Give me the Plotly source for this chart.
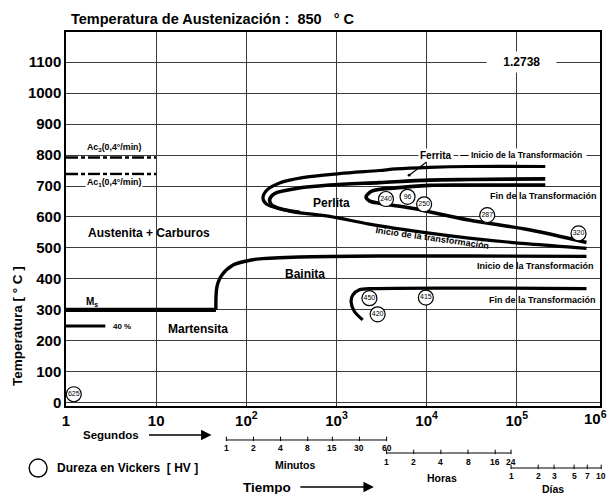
import numpy as np
import plotly.graph_objects as go

# ---------------- data (time in seconds, temperature in °C) ----------------
FERRITE_START_T = [207000, 29500, 10700, 4570, 2990, 1080, 420, 234, 169, 153, 167, 303, 838, 2320, 10700, 29500, 136000, 593000]
FERRITE_START_C = [763, 763, 760, 755, 750, 740, 727, 710, 687, 661, 642, 619, 602, 577, 548, 532, 513, 499]

PEARLITE_START_T = [207000, 29500, 10700, 2990, 838, 359, 207, 182, 191, 266, 390]
PEARLITE_START_C = [723, 721, 719, 711, 703, 692, 676, 658, 639, 623, 615]

PEARLITE_END_T = [207000, 29500, 10700, 4570, 2500, 2130, 2320, 2990, 6920, 29500, 141600, 593000]
PEARLITE_END_C = [703, 703, 702, 694, 684, 665, 652, 644, 628, 590, 558, 518]

MS_T = [1, 46]
MS_C = [300, 300]

BAINITE_START_T = [46, 46, 46.7, 48.4, 53.6, 71.4, 101, 141, 390, 2990, 29500, 593000]
BAINITE_START_C = [300, 332, 365, 387, 413, 445, 458, 465, 471, 474, 474, 473]

BAINITE_END_T = [593000, 2520, 1795, 1514, 1452, 1581, 1954]
BAINITE_END_C = [369, 369, 365, 348, 327, 295, 268]

M40_T = [1, 2.73]
M40_C = [248, 248]

AC3_T = [1, 10]
AC3_C = [792, 792]
AC1_T = [1, 10]
AC1_C = [739, 739]

HV_T = [1.22, 3540, 6140, 9380, 47000, 484000, 2320, 2860, 9800]
HV_C = [28, 658, 665, 641, 606, 547, 338, 286, 340]
HV_VAL = [625, 240, 96, 250, 287, 320, 450, 420, 415]

X_TICKS = [1, 10, 100, 1000, 10000, 100000]
X_TICKTEXT = ["<b>1</b>", "<b>10</b>", "<b>10<sup>2</sup></b>", "<b>10<sup>3</sup></b>",
              "<b>10<sup>4</sup></b>", "<b>10<sup>5</sup></b>"]
Y_TICKS = [0, 100, 200, 300, 400, 500, 600, 700, 800, 900, 1000, 1100]

MINUTES = [1, 2, 4, 8, 15, 30, 60]
HOURS = [1, 2, 4, 8, 16, 24]
DAYS = [1, 2, 3, 5, 7, 10]

X_RANGE = [0, 5.923]
Y_RANGE = [-10, 1197]

FONT = "Liberation Sans, Arial, Helvetica, sans-serif"

fig = go.Figure()

def curve(t, c, width=3.6, dash=None, shape="spline", smoothing=0.9):
    fig.add_trace(go.Scatter(
        x=t, y=c, mode="lines",
        line=dict(color="black", width=width, dash=dash, shape=shape,
                  smoothing=smoothing if shape == "spline" else None),
        hoverinfo="skip"))

curve(FERRITE_START_T, FERRITE_START_C, width=3.2)
curve(PEARLITE_START_T, PEARLITE_START_C, width=3.6)
curve(PEARLITE_END_T, PEARLITE_END_C, width=3.6)
curve(MS_T, MS_C, width=4.2, shape="linear")
curve(BAINITE_START_T, BAINITE_START_C, width=3.4, smoothing=0.8)
curve(BAINITE_END_T, BAINITE_END_C, width=3.2, smoothing=0.8)
curve(M40_T, M40_C, width=3.0, shape="linear")
curve(AC3_T, AC3_C, width=2.5, dash="12px,3px,4px,3px", shape="linear")
curve(AC1_T, AC1_C, width=2.5, dash="12px,3px,4px,3px", shape="linear")

# hardness circles
fig.add_trace(go.Scatter(
    x=HV_T, y=HV_C, mode="markers+text",
    marker=dict(symbol="circle", size=15, color="white",
                line=dict(color="black", width=1.2)),
    text=[str(v) for v in HV_VAL], textposition="middle center",
    textfont=dict(size=7, color="black", family=FONT),
    cliponaxis=False, hoverinfo="skip"))

annotations = []

def ann(text, x, y, size=12, xref="x", yref="y", log=True, **kw):
    kw.setdefault("xanchor", "center")
    kw.setdefault("yanchor", "middle")
    annotations.append(dict(
        text=text, x=(np.log10(x) if (xref == "x" and log) else x), y=y,
        xref=xref, yref=yref, showarrow=kw.pop("showarrow", False),
        font=dict(size=size, family=FONT, color="black"), **kw))

def xpaper(sec):
    """map a time (s) to the paper fraction of the log x axis"""
    return (np.log10(sec) - X_RANGE[0]) / (X_RANGE[1] - X_RANGE[0])

# region labels
ann("<b>Austenita + Carburos</b>", 8.4, 547, 12)
ann("<b>Perlita</b>", 890, 644, 12)
ann("<b>Bainita</b>", 443, 416, 12)
ann("<b>Martensita</b>", 29.1, 238, 12)
ann("<b>M<sub>s</sub></b>", 1.96, 327, 10)
ann("<b>40 %</b>", 4.2, 248, 8)
ann("<b>Ac<sub>3</sub>(0,4°/min)</b>", 3.44, 823, 8.8)
ann("<b>Ac<sub>1</sub>(0,4°/min)</b>", 3.44, 712, 8.8, bgcolor="white")
ann("&nbsp;&nbsp;&nbsp;&nbsp;<b>1.2738</b>&nbsp;&nbsp;&nbsp;&nbsp;", 112000, 1100, 12,
    bgcolor="white", borderpad=3)
ann("<b>— Inicio de la Transformación</b>&nbsp;", 116000, 800, 8.6, bgcolor="white")
ann("<b>Fin de la Transformación</b>", 199000, 668, 9)
ann("<b>Inicio de la transformación</b>", 11500, 532, 9, textangle=8)
ann("<b>Inicio de la Transformación</b>", 162000, 442, 9)
ann("<b>Fin de la Transformación</b>", 191000, 332, 9)

# Ferrita label with leader line
annotations.append(dict(
    text="<b>Ferrita</b>", x=np.log10(6400), y=735, xref="x", yref="y",
    ax=np.log10(12650), ay=800, axref="x", ayref="y",
    showarrow=True, arrowhead=6, arrowsize=0.6, arrowwidth=1.2, arrowcolor="black",
    bgcolor="white", font=dict(size=10, family=FONT, color="black")))

# 10^6 label at right end of axis
ann("<b>10<sup>6</sup></b>", 0.9925, -0.032, 15, xref="paper", yref="paper", log=False)

# title and axis title
ann("<b>Temperatura de Austenización :  850   ° C</b>", 0.006, 1.0348, 14.5,
    xref="paper", yref="paper", log=False, xanchor="left")
ann("<b>Temperatura [ ° C ]</b>", -0.0896, 0.214, 13.5, xref="paper", yref="paper",
    log=False, textangle=-90)

# bottom texts
ann("<b>Segundos</b>", 0.084, -0.0775, 11.5, xref="paper", yref="paper", log=False)
ann("<b>Minutos</b>", 0.429, -0.158, 10.5, xref="paper", yref="paper", log=False)
ann("<b>Horas</b>", 0.7034, -0.1925, 10.5, xref="paper", yref="paper", log=False)
ann("<b>Días</b>", 0.9123, -0.222, 10.5, xref="paper", yref="paper", log=False)
ann("<b>Tiempo</b>", 0.3769, -0.2166, 13.5, xref="paper", yref="paper", log=False)
ann("<b>Dureza en Vickers  [ HV ]</b>", -0.0205, -0.1658, 12, xref="paper",
    yref="paper", log=False, xanchor="left")

# arrows
for head_x, length, y in [(0.2724, 64, -0.0775), (0.5765, 75, -0.2166)]:
    annotations.append(dict(
        text="", x=head_x, y=y, xref="paper", yref="paper",
        ax=-length, ay=0, axref="pixel", ayref="pixel",
        showarrow=True, arrowhead=2, arrowsize=1.3, arrowwidth=1.6, arrowcolor="black"))

shapes = []

def time_scale(values, factor, y_line, y_lab):
    secs = [v * factor for v in values]
    shapes.append(dict(type="line", xref="paper", yref="paper",
                       x0=xpaper(secs[0]), x1=xpaper(secs[-1]), y0=y_line, y1=y_line,
                       line=dict(color="black", width=1)))
    for v, s in zip(values, secs):
        shapes.append(dict(type="line", xref="paper", yref="paper",
                           x0=xpaper(s), x1=xpaper(s), y0=y_line - 0.003, y1=y_line + 0.009,
                           line=dict(color="black", width=1)))
        ann("<b>%d</b>" % v, xpaper(s), y_lab, 8.5, xref="paper", yref="paper", log=False)

time_scale(MINUTES, 60, -0.0909, -0.1123)
time_scale(HOURS, 3600, -0.1257, -0.1497)
time_scale(DAYS, 86400, -0.1658, -0.1872)

# legend circle for hardness
shapes.append(dict(type="circle", xref="paper", yref="paper",
                   x0=-0.0522 - 0.0168, x1=-0.0522 + 0.0168,
                   y0=-0.1658 - 0.0241, y1=-0.1658 + 0.0241,
                   line=dict(color="black", width=1.4)))

fig.update_layout(
    width=611, height=494,
    margin=dict(l=66, r=9, t=32, b=88),
    plot_bgcolor="white", paper_bgcolor="white",
    showlegend=False,
    font=dict(family=FONT, color="black"),
    annotations=annotations, shapes=shapes,
    xaxis=dict(type="log", range=X_RANGE, tickvals=X_TICKS, ticktext=X_TICKTEXT,
               showgrid=True, gridcolor="#3a3a3a", gridwidth=1.1,
               showline=True, mirror=True, linecolor="black", linewidth=1.5,
               ticks="", zeroline=False,
               tickfont=dict(size=15, family=FONT, color="black")),
    yaxis=dict(range=Y_RANGE, tickvals=Y_TICKS, ticktext=["<b>%d</b>" % v for v in Y_TICKS],
               showgrid=True, gridcolor="#3a3a3a", gridwidth=1.1,
               showline=True, mirror=True, linecolor="black", linewidth=1.5,
               ticks="", zeroline=False,
               tickfont=dict(size=15, family=FONT, color="black")),
)

fig.write_html("out.html")
